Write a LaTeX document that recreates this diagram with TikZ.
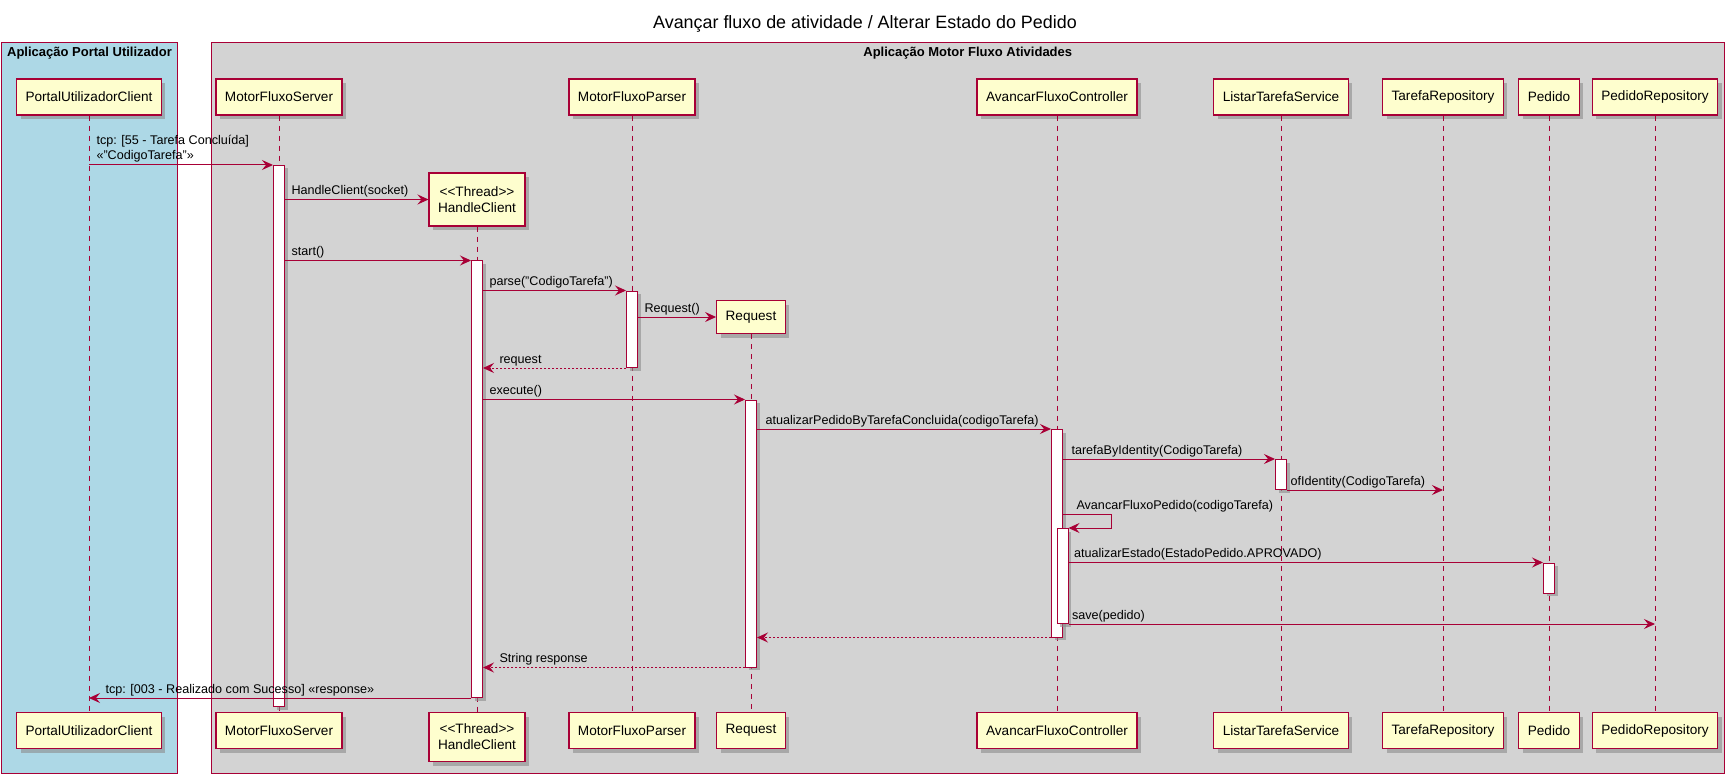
\documentclass[tikz,border=0pt]{standalone}
\usepackage{fontspec}
\setmainfont{Liberation Sans}
\usetikzlibrary{arrows.meta,shadows,positioning}

\definecolor{umlred}{HTML}{A80036}
\definecolor{umlfill}{HTML}{FEFECE}
\definecolor{boxblue}{HTML}{ADD8E6}
\definecolor{boxgray}{HTML}{D3D3D3}

\tikzset{
  part/.style={draw=umlred, line width=1.2pt, fill=umlfill, inner xsep=9pt, inner ysep=2pt,
    minimum height=36pt, align=center, font=\fontsize{13.6}{16}\selectfont,
    drop shadow={shadow xshift=4pt, shadow yshift=-4pt, fill=black!45, opacity=0.6}},
  act/.style={draw=umlred, line width=1pt, fill=white, minimum width=11pt, inner sep=0pt,
    drop shadow={shadow xshift=3pt, shadow yshift=-3pt, fill=black!45, opacity=0.6}},
  life/.style={umlred, line width=0.8pt, dash pattern=on 5pt off 5pt},
  msg/.style={umlred, line width=1pt, -{Stealth[length=11pt, width=10pt, inset=4pt]}},
  ret/.style={msg, dash pattern=on 2pt off 2pt},
  lbl/.style={text=black, font=\fontsize{12.6}{15.3}\selectfont, inner sep=0pt},
  ml/.style={lbl, at start, anchor=base west, xshift=#1, yshift=5pt},
  ml/.default=6pt,
  mr/.style={lbl, at end, anchor=base west, xshift=16pt, yshift=5pt},
  grp/.style={draw=umlred, line width=1pt, inner sep=0pt, anchor=north west},
  grplbl/.style={font=\bfseries\fontsize{13}{15}\selectfont, inner sep=0pt},
}

\begin{document}
\begin{tikzpicture}[x=1pt, y=-1pt]
  \useasboundingbox[fill=white] (0,0) rectangle (1730,778);

  \node[font=\fontsize{17.9}{21}\selectfont] (title) at (865,24) {Avançar fluxo de atividade / Alterar Estado do Pedido};

  % boxes
  \node[grp, fill=boxblue, minimum width=176pt, minimum height=731pt] (portalbox) at (1,42) {};
  \node[grp, fill=boxgray, minimum width=1513.5pt, minimum height=731pt] (motorbox) at (210.5,42) {};
  \node[grplbl, below=5pt of portalbox.north] (portallbl) {Aplicação Portal Utilizador};
  \node[grplbl, below=5pt of motorbox.north] (motorlbl) {Aplicação Motor Fluxo Atividades};

  % participants
  \node[part] (portal) at (89,97) {PortalUtilizadorClient};
  \node[part] (server) at (279,97) {MotorFluxoServer};
  \node[part] (parser) at (632,97) {MotorFluxoParser};
  \node[part] (ctrl) at (1057,97) {AvancarFluxoController};
  \node[part] (listar) at (1281,97) {ListarTarefaService};
  \node[part] (tarrepo) at (1443,97) {TarefaRepository};
  \node[part] (pedido) at (1549,97) {Pedido};
  \node[part] (pedrepo) at (1655,97) {PedidoRepository};
  \node[part, minimum height=53pt] (hc) at (477,199.5) {<{}<Thread>{}>\\HandleClient};
  \node[part, minimum height=33pt] (req) at (751,317) {Request};

  \node[part, anchor=north] (portalB) at (89,712) {PortalUtilizadorClient};
  \node[part, anchor=north] (serverB) at (279,712) {MotorFluxoServer};
  \node[part, anchor=north, minimum height=49pt] (hcB) at (477,712) {<{}<Thread>{}>\\HandleClient};
  \node[part, anchor=north] (parserB) at (632,712) {MotorFluxoParser};
  \node[part, anchor=north] (reqB) at (751,712) {Request};
  \node[part, anchor=north] (ctrlB) at (1057,712) {AvancarFluxoController};
  \node[part, anchor=north] (listarB) at (1281,712) {ListarTarefaService};
  \node[part, anchor=north] (tarrepoB) at (1443,712) {TarefaRepository};
  \node[part, anchor=north] (pedidoB) at (1549,712) {Pedido};
  \node[part, anchor=north] (pedrepoB) at (1655,712) {PedidoRepository};

  % lifelines
  \draw[life] (portal.south) -- (portalB.north);
  \draw[life] (server.south) -- (serverB.north);
  \draw[life] (hc.south) -- (hcB.north);
  \draw[life] (parser.south) -- (parserB.north);
  \draw[life] (req.south) -- (reqB.north);
  \draw[life] (ctrl.south) -- (ctrlB.north);
  \draw[life] (listar.south) -- (listarB.north);
  \draw[life] (tarrepo.south) -- (tarrepoB.north);
  \draw[life] (pedido.south) -- (pedidoB.north);
  \draw[life] (pedrepo.south) -- (pedrepoB.north);

  % activations
  \node[act, anchor=north, minimum height=541pt] (srvact) at (279,165) {};
  \node[act, anchor=north, minimum height=436.5pt] (hcact) at (477,260.5) {};
  \node[act, anchor=north, minimum height=76.5pt] (parsact) at (632,290.5) {};
  \node[act, anchor=north, minimum height=267pt] (reqact) at (751,399.5) {};
  \node[act, anchor=north, minimum height=207.5pt] (ctrlact) at (1057,429) {};
  \node[act, anchor=north, minimum height=30pt] (listact) at (1281,459) {};
  \node[act, anchor=north, minimum height=95pt] (ctrlact2) at (1062.5,528) {};
  \node[act, anchor=north, minimum height=30pt] (pedact) at (1549,562.5) {};
  \coordinate (selfturn) at (1111,514);

  % messages
  \draw[msg] (portal.south |- srvact.north) -- node[lbl, at start, anchor=south west, align=left, xshift=7pt, yshift=2pt] (tcpin) {tcp: [55 - Tarefa Concluída]\\«"CodigoTarefa"»} (srvact.north west);
  \draw[msg] (srvact.east |- hc.west) -- node[ml] (socketlbl) {HandleClient(socket)} (hc.west);
  \draw[msg] (srvact.east |- hcact.north) -- node[ml] (startlbl) {start()} (hcact.north west);
  \draw[msg] (hcact.east |- parsact.north) -- node[ml] (parselbl) {parse("CodigoTarefa")} (parsact.north west);
  \draw[msg] (parsact.east |- req.west) -- node[ml] (newreqlbl) {Request()} (req.west);
  \draw[ret] (parsact.south west) -- node[mr] (reqretlbl) {request} (hcact.east |- parsact.south);
  \draw[msg] (hcact.east |- reqact.north) -- node[ml] (execlbl) {execute()} (reqact.north west);
  \draw[msg] (reqact.east |- ctrlact.north) -- node[ml=8pt] (atuallbl) {atualizarPedidoByTarefaConcluida(codigoTarefa)} (ctrlact.north west);
  \draw[msg] (ctrlact.east |- listact.north) -- node[ml=8pt] (byidlbl) {tarefaByIdentity(CodigoTarefa)} (listact.north west);
  \draw[msg] (listact.south east) -- node[ml=3pt] (ofidlbl) {ofIdentity(CodigoTarefa)} (tarrepo.south |- listact.south);
  \draw[msg] (ctrlact.east |- selfturn) -- node[ml=13pt] (avanclbl) {AvancarFluxoPedido(codigoTarefa)} (selfturn) -- (selfturn |- ctrlact2.north) -- (ctrlact2.north east);
  \draw[msg] (ctrlact2.east |- pedact.north) -- node[ml=5pt] (estadolbl) {atualizarEstado(EstadoPedido.APROVADO)} (pedact.north west);
  \draw[msg] (ctrlact2.south east) -- node[ml=3pt] (savelbl) {save(pedido)} (pedrepo.south |- ctrlact2.south);
  \draw[ret] (ctrlact.south west) -- (reqact.east |- ctrlact.south);
  \draw[ret] (reqact.south west) -- node[mr] (resplbl) {String response} (hcact.east |- reqact.south);
  \draw[msg] (hcact.south west) -- node[mr] (tcpout) {tcp: [003 - Realizado com Sucesso] «response»} (portal.south |- hcact.south);
\end{tikzpicture}
\end{document}
